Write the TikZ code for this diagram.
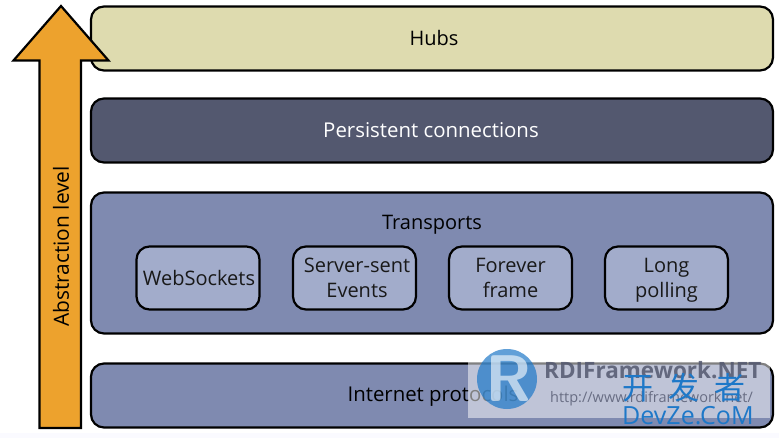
\documentclass[tikz,border=0pt]{standalone}
\usepackage{fontspec}
\setmainfont{Open Sans}
\newfontfamily\cjk{Noto Sans CJK SC}
\usetikzlibrary{calc}
\definecolor{hubc}{HTML}{DEDBAF}
\definecolor{pers}{HTML}{53586F}
\definecolor{trans}{HTML}{7F8AB0}
\definecolor{inner}{HTML}{A2ACCB}
\definecolor{arrowc}{HTML}{EDA22D}
\definecolor{wmblue}{HTML}{1E78C8}
\tikzset{
 x=1pt,y=-1pt,
 layer/.style={draw=black,line width=2.2pt,rounded corners=13pt,fill=trans,minimum width=682pt,anchor=north west,inner sep=0pt,outer sep=0pt},
 item/.style={draw=black,line width=2.2pt,rounded corners=13pt,fill=inner,minimum width=123pt,minimum height=63pt,inner sep=0pt,outer sep=0pt},
 itemtext/.style={inner sep=0pt,align=center,font=\fontsize{20}{25}\selectfont,text=black!90},
 lbl/.style={font=\fontsize{20}{24}\selectfont,inner sep=0pt},
 lblw/.style={font=\fontsize{20.4}{24}\selectfont,inner sep=0pt},
 arrowshape/.style={draw=black,line width=2.2pt,fill=arrowc,line join=miter}
}
\begin{document}
\begin{tikzpicture}
\useasboundingbox (0,0) rectangle (779,438);
\fill[white] (0,0) rectangle (779,438);
\fill[black!3!blue!2!white] (0,433) rectangle (779,438);
\node[layer,fill=hubc,minimum height=64pt] (hubs) at (91,6.5) {};
\node[layer,fill=pers,minimum height=64pt] (persistent) at (91,98.5) {};
\node[layer,minimum height=141pt] (transports) at (91,192.5) {};
\node[layer,minimum height=64pt] (internet) at (91,363.5) {};
\node[lbl] (hubst) at (434,38) {Hubs};
\node[lblw,text=white] (perst) at (431,130.5) {Persistent connections};
\node[lbl] (transt) at (432,224.5) {Transports};
\node[lblw] (intt) at (433,396) {Internet protocols};
\node[item] (ws) at (198,278) {};
\node[item] (sse) at (354.5,278) {};
\node[item] (ff) at (510.5,278) {};
\node[item] (lp) at (666.5,278) {};
\node[itemtext] (wst) at (199,278) {WebSockets};
\node[itemtext] (sset) at (357,280) {Server-sent\strut\\Events\strut};
\node[itemtext] (fft) at (510.5,280) {Forever\strut\\frame\strut};
\node[itemtext] (lpt) at (666.5,280) {Long\strut\\polling\strut};
\draw[arrowshape] (61,6) -- (108.5,60.5) -- (81,60.5) -- (81,428) -- (39.5,428) -- (39.5,60.5) -- (13.5,60.5) -- cycle;
\node[font=\fontsize{20.9}{24}\selectfont,inner sep=0pt,rotate=90] (abs) at (61,246.5) {Abstraction level};
% watermark
\fill[white,opacity=.5] (468,362) rectangle (770,418);
\fill[wmblue,opacity=.7] (507,379) circle (30);
\node[font=\sffamily\bfseries\fontsize{66}{66}\selectfont,text=white,opacity=.6,inner sep=0pt] (rlogo) at (509,379) {R};
\node[font=\bfseries\fontsize{22.5}{24}\selectfont,text=pers,opacity=.85,anchor=west,inner sep=0pt] (wm1) at (544,370) {RDIFramework.NET};
\node[font=\fontsize{14.5}{16}\selectfont,text=pers,opacity=.8,anchor=west,inner sep=0pt] (wm2) at (550,399) {http://www.rdiframework.net/};
\node[font=\cjk\fontsize{31}{32}\selectfont,text=wmblue,anchor=west,inner sep=0pt] (wm3) at (622,388) {开\hspace{15pt}发\hspace{15pt}者};
\node[font=\fontsize{25}{26}\selectfont,text=wmblue,anchor=west,inner sep=0pt] (wm4) at (622,416) {DevZe.CoM};
\end{tikzpicture}
\end{document}
